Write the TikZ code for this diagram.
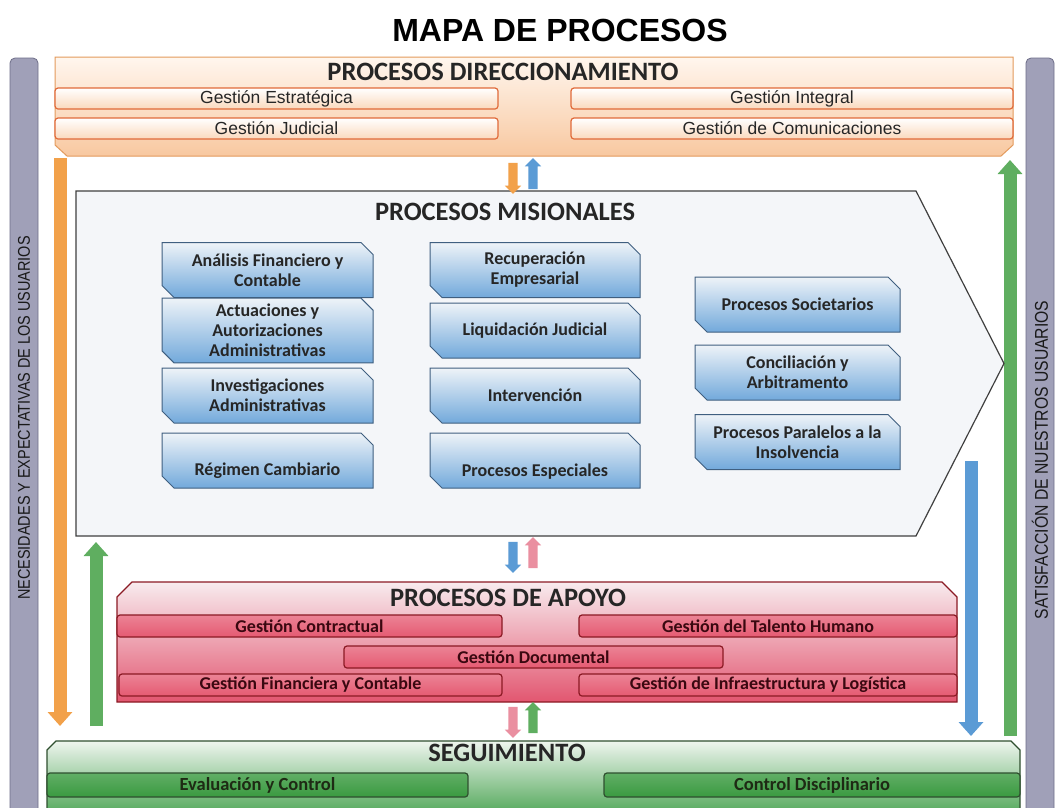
\documentclass[tikz,border=0pt]{standalone}
\usepackage{fontspec}
\setmainfont{Liberation Sans}
\newfontfamily\calibri{Carlito}
\newfontfamily\narrowsans[FakeStretch=0.85]{Liberation Sans}
\usetikzlibrary{shapes.misc,shapes.arrows,arrows.meta}

\begin{document}
\begin{tikzpicture}[x=1pt,y=-1pt,
    greybar/.style={draw=barD, fill=barF, line width=0.8pt, rounded corners=5pt, inner sep=0pt},
    bartext/.style={rotate=90, font=\narrowsans\fontsize{17}{18}\selectfont, text=black!90},
    sectitle/.style={font=\calibri\bfseries\fontsize{26.5}{28}\selectfont, text=black!85},
    dirbox/.style={draw=dirD, line width=1pt, top color=dirT, bottom color=dirB},
    dirsub/.style={draw=dirS, line width=1.2pt, top color=white, bottom color=dirB!70,
        rounded corners=3pt, inner sep=0pt, minimum height=21pt,
        font=\fontsize{17.5}{18}\selectfont, text=black!85},
    misbox/.style={chamfered rectangle, chamfered rectangle corners={north east,south west},
        chamfered rectangle xsep=6pt, chamfered rectangle ysep=6pt,
        draw=misD, line width=1pt, top color=misT, bottom color=misB, inner sep=0pt,
        minimum height=55pt, align=center, font=\calibri\bfseries\fontsize{18}{20}\selectfont, text=black!85},
    apobox/.style={draw=apoD, line width=1.2pt, top color=apoT, bottom color=apoB},
    aposub/.style={draw=apoD, line width=1.2pt, top color=apoS!75, bottom color=apoS,
        rounded corners=3pt, inner sep=0pt, minimum height=22pt,
        font=\calibri\bfseries\fontsize{18}{19}\selectfont, text=apoX},
    segbox/.style={draw=segD, line width=1.2pt, top color=segT, bottom color=segB},
    segsub/.style={draw=segD, line width=1.2pt, top color=segS!80, bottom color=segS,
        rounded corners=3pt, inner sep=0pt, minimum height=24pt,
        font=\calibri\bfseries\fontsize{18.5}{19}\selectfont, text=segX},
    bigarrow/.style={line width=13pt, -{Triangle[width=24pt,length=14pt]}},
    smallarrow/.style={single arrow, single arrow head extend=3.5pt, inner sep=4.5pt,
        minimum height=31pt, draw=none},
]
    \definecolor{barF}{HTML}{A0A0B8}
    \definecolor{barD}{HTML}{6E6E88}
    \definecolor{dirT}{HTML}{FFF6EE}
    \definecolor{dirB}{HTML}{F8C8A0}
    \definecolor{dirD}{HTML}{E39A5C}
    \definecolor{dirS}{HTML}{E06A3A}
    \definecolor{misF}{HTML}{F4F6F9}
    \definecolor{misL}{HTML}{404040}
    \definecolor{misD}{HTML}{3F5F80}
    \definecolor{misT}{HTML}{EEF3F8}
    \definecolor{misB}{HTML}{72A9DB}
    \definecolor{apoT}{HTML}{F8EBEE}
    \definecolor{apoB}{HTML}{E25670}
    \definecolor{apoD}{HTML}{8B1A24}
    \definecolor{apoS}{HTML}{E55A72}
    \definecolor{apoX}{HTML}{3A0810}
    \definecolor{segT}{HTML}{EEF5EE}
    \definecolor{segB}{HTML}{4FA657}
    \definecolor{segD}{HTML}{2F4F2F}
    \definecolor{segS}{HTML}{3A9A40}
    \definecolor{segX}{HTML}{1E2A14}
    \definecolor{orA}{HTML}{F2A14A}
    \definecolor{grA}{HTML}{5FAE60}
    \definecolor{blA}{HTML}{5B9BD5}
    \definecolor{piA}{HTML}{EA8FA0}

    \useasboundingbox[fill=white] (0,0) rectangle (1062,807);

    \node[font=\bfseries\fontsize{32}{34}\selectfont] (title) at (560,30) {MAPA DE PROCESOS};

    \node[greybar, minimum width=28pt, minimum height=762pt] (necbar) at (24,439) {};
    \node[bartext] (nectext) at (24,418) {NECESIDADES Y EXPECTATIVAS DE LOS USUARIOS};
    \node[greybar, minimum width=28pt, minimum height=762pt] (satbar) at (1040,439) {};
    \node[bartext, font=\narrowsans\fontsize{18.5}{20}\selectfont] (sattext) at (1040,460) {SATISFACCIÓN DE NUESTROS USUARIOS};

    \path[dirbox] (55,57) -- (1013,57) -- (1013,145) -- (1001,156) -- (67,156) -- (55,145) -- cycle;
    \node[sectitle] (dirtitle) at (503,72) {PROCESOS DIRECCIONAMIENTO};
    \node[dirsub, minimum width=443pt] (estr) at (276.5,98.5) {Gestión Estratégica};
    \node[dirsub, minimum width=443pt] (jud) at (276.5,128.5) {Gestión Judicial};
    \node[dirsub, minimum width=442pt] (integ) at (792,98.5) {Gestión Integral};
    \node[dirsub, minimum width=442pt] (comun) at (792,128.5) {Gestión de Comunicaciones};

    \coordinate (orTop) at (60,158);
    \coordinate (orBot) at (60,726);
    \coordinate (glBot) at (96,726);
    \coordinate (glTop) at (96,542);
    \coordinate (blTop) at (971,461);
    \coordinate (blBot) at (971,736);
    \coordinate (grBot) at (1010,736);
    \coordinate (grTop) at (1010,160);
    \draw[bigarrow, orA] (orTop) -- (orBot);
    \draw[bigarrow, grA] (glBot) -- (glTop);
    \draw[bigarrow, blA] (blTop) -- (blBot);
    \draw[bigarrow, grA] (grBot) -- (grTop);

    \draw[fill=misF, draw=misL, line width=1.2pt] (76,191) -- (916,191) -- (1004,363.5) -- (916,536) -- (76,536) -- cycle;
    \node[sectitle] (mistitle) at (505,212) {PROCESOS MISIONALES};

    \node[misbox, minimum width=211pt] (afc) at (267.5,270) {Análisis Financiero y\\Contable};
    \node[misbox, minimum width=211pt] (aaa) at (267.5,330.5) {Actuaciones y\\Autorizaciones\\Administrativas};
    \node[misbox, minimum width=211pt] (inv) at (267.5,395.5) {Investigaciones\\Administrativas};
    \node[misbox, minimum width=211pt] (reg) at (267.5,460.5) {\strut\\Régimen Cambiario};
    \node[misbox, minimum width=210pt] (rec) at (535,270) {Recuperación\\Empresarial};
    \node[misbox, minimum width=210pt] (liq) at (535,330.5) {Liquidación Judicial};
    \node[misbox, minimum width=210pt] (intv) at (535,395.5) {Intervención};
    \node[misbox, minimum width=210pt] (esp) at (535,460.5) {\strut\\Procesos Especiales};
    \node[misbox, minimum width=205pt] (soc) at (797.5,304.5) {Procesos Societarios};
    \node[misbox, minimum width=205pt] (conc) at (797.5,372.5) {Conciliación y\\Arbitramento};
    \node[misbox, minimum width=205pt] (par) at (797.5,442) {Procesos Paralelos a la\\Insolvencia};

    \path[apobox] (117,597) -- (132,582) -- (942,582) -- (957,597) -- (957,702) -- (117,702) -- cycle;
    \node[sectitle] (apotitle) at (508,598) {PROCESOS DE APOYO};
    \node[aposub, minimum width=385pt] (contr) at (309.5,626) {Gestión Contractual};
    \node[aposub, minimum width=378pt] (tal) at (768,626) {Gestión del Talento Humano};
    \node[aposub, minimum width=379pt] (doc) at (533.5,657) {Gestión Documental};
    \node[aposub, minimum width=383pt] (fin) at (310.5,685) {Gestión Financiera y Contable};
    \node[aposub, minimum width=378pt] (infra) at (768,685) {Gestión de Infraestructura y Logística};

    \path[segbox] (47,750) -- (56,741) -- (1011,741) -- (1020,750) -- (1020,816) -- (47,816) -- cycle;
    \node[sectitle] (segtitle) at (507,753) {SEGUIMIENTO};
    \node[segsub, minimum width=421pt] (eval) at (257.5,785) {Evaluación y Control};
    \node[segsub, minimum width=416pt] (disc) at (812,785) {Control Disciplinario};

    \node[smallarrow, fill=orA, rotate=-90] (dn1) at (513,176) {};
    \node[smallarrow, fill=blA, rotate=90] (up1) at (533,176) {};
    \node[smallarrow, fill=blA, rotate=-90] (dn2) at (513,555) {};
    \node[smallarrow, fill=piA, rotate=90] (up2) at (533,555) {};
    \node[smallarrow, fill=piA, rotate=-90] (dn3) at (513,720) {};
    \node[smallarrow, fill=grA, rotate=90] (up3) at (533,720) {};
\end{tikzpicture}
\end{document}
